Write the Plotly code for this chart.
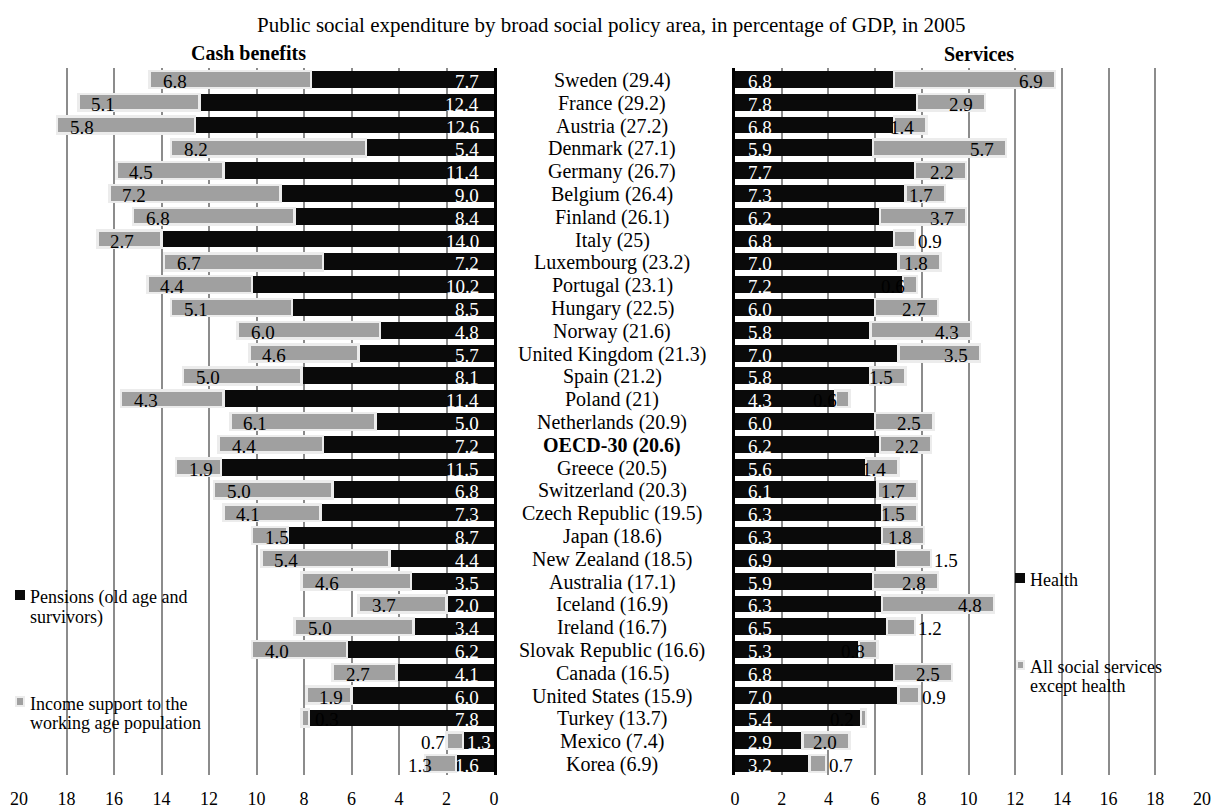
import plotly.graph_objects as go

# ---- data: public social expenditure, % of GDP, 2005 ----
countries = [
    "Sweden", "France", "Austria", "Denmark", "Germany", "Belgium", "Finland",
    "Italy", "Luxembourg", "Portugal", "Hungary", "Norway", "United Kingdom",
    "Spain", "Poland", "Netherlands", "OECD-30", "Greece", "Switzerland",
    "Czech Republic", "Japan", "New Zealand", "Australia", "Iceland", "Ireland",
    "Slovak Republic", "Canada", "United States", "Turkey", "Mexico", "Korea",
]
totals = [
    29.4, 29.2, 27.2, 27.1, 26.7, 26.4, 26.1, 25, 23.2, 23.1, 22.5, 21.6, 21.3,
    21.2, 21, 20.9, 20.6, 20.5, 20.3, 19.5, 18.6, 18.5, 17.1, 16.9, 16.7, 16.6,
    16.5, 15.9, 13.7, 7.4, 6.9,
]
pensions = [
    7.7, 12.4, 12.6, 5.4, 11.4, 9.0, 8.4, 14.0, 7.2, 10.2, 8.5, 4.8, 5.7, 8.1,
    11.4, 5.0, 7.2, 11.5, 6.8, 7.3, 8.7, 4.4, 3.5, 2.0, 3.4, 6.2, 4.1, 6.0, 7.8,
    1.3, 1.6,
]
income_support = [
    6.8, 5.1, 5.8, 8.2, 4.5, 7.2, 6.8, 2.7, 6.7, 4.4, 5.1, 6.0, 4.6, 5.0, 4.3,
    6.1, 4.4, 1.9, 5.0, 4.1, 1.5, 5.4, 4.6, 3.7, 5.0, 4.0, 2.7, 1.9, 0.3, 0.7,
    1.3,
]
health = [
    6.8, 7.8, 6.8, 5.9, 7.7, 7.3, 6.2, 6.8, 7.0, 7.2, 6.0, 5.8, 7.0, 5.8, 4.3,
    6.0, 6.2, 5.6, 6.1, 6.3, 6.3, 6.9, 5.9, 6.3, 6.5, 5.3, 6.8, 7.0, 5.4, 2.9,
    3.2,
]
social_services = [
    6.9, 2.9, 1.4, 5.7, 2.2, 1.7, 3.7, 0.9, 1.8, 0.6, 2.7, 4.3, 3.5, 1.5, 0.6,
    2.5, 2.2, 1.4, 1.7, 1.5, 1.8, 1.5, 2.8, 4.8, 1.2, 0.8, 2.5, 0.9, 0.2, 2.0,
    0.7,
]
axis_ticks = [0, 2, 4, 6, 8, 10, 12, 14, 16, 18, 20]

labels = [f"{c} ({t:g})" for c, t in zip(countries, totals)]

# ---- styling ----
W, H = 1219, 811
FONT = "Liberation Serif, Times New Roman, serif"
BLACK = "#0a0a0a"
GREY = "#a0a0a0"
EDGE = "#ececec"
GRID = "#8c8c8c"
BAR_W = 0.74

# label placement exceptions (short bars whose value sits beyond the bar end)
services_outside = {"Italy", "New Zealand", "Ireland", "United States", "Korea"}
income_outside = {"Mexico": 0, "Korea": 9}
pension_shift = {"Mexico": -1}


def px(x):
    return x / W


def py(y):
    return 1 - y / H


fig = go.Figure()

fig.add_trace(go.Bar(y=labels, x=pensions, orientation="h", width=BAR_W,
                     marker=dict(color=BLACK, line=dict(width=0)),
                     name="Pensions (old age and survivors)",
                     xaxis="x", yaxis="y"))
fig.add_trace(go.Bar(y=labels, x=income_support, orientation="h", width=BAR_W,
                     marker=dict(color=GREY, line=dict(color=EDGE, width=2.5)),
                     name="Income support to the working age population",
                     xaxis="x", yaxis="y"))
fig.add_trace(go.Bar(y=labels, x=health, orientation="h", width=BAR_W,
                     marker=dict(color=BLACK, line=dict(width=0)),
                     name="Health", xaxis="x2", yaxis="y2"))
fig.add_trace(go.Bar(y=labels, x=social_services, orientation="h", width=BAR_W,
                     marker=dict(color=GREY, line=dict(color=EDGE, width=2.5)),
                     name="All social services except health",
                     xaxis="x2", yaxis="y2"))

annotations = []
VAL = dict(family=FONT, size=19)

for i, lab in enumerate(labels):
    name = countries[i]
    bold = name == "OECD-30"
    # country label in the centre column
    annotations.append(dict(
        x=px(612), xref="paper", y=lab, yref="y", xanchor="center",
        text=f"<b>{lab}</b>" if bold else lab, showarrow=False,
        font=dict(family=FONT, size=20, color="#000"), yshift=-1))
    # pensions value, near the zero line
    annotations.append(dict(
        x=0, xref="x", y=lab, yref="y", xanchor="right",
        xshift=pension_shift.get(name, -13),
        text=f"{pensions[i]:.1f}", showarrow=False, yshift=-2,
        font=dict(VAL, color="#ffffff")))
    # income support value, at the outer end
    end = pensions[i] + income_support[i]
    if name in income_outside:
        annotations.append(dict(
            x=end, xref="x", y=lab, yref="y", xanchor="right",
            xshift=income_outside[name], text=f"{income_support[i]:.1f}",
            showarrow=False, yshift=-2, font=dict(VAL, color="#000")))
    else:
        annotations.append(dict(
            x=end, xref="x", y=lab, yref="y", xanchor="left", xshift=11,
            text=f"{income_support[i]:.1f}", showarrow=False, yshift=-2,
            font=dict(VAL, color="#000")))
    # health value, near the zero line
    annotations.append(dict(
        x=0, xref="x2", y=lab, yref="y2", xanchor="left", xshift=11,
        text=f"{health[i]:.1f}", showarrow=False, yshift=-2,
        font=dict(VAL, color="#ffffff")))
    # social services value
    end2 = health[i] + social_services[i]
    if name in services_outside:
        annotations.append(dict(
            x=end2, xref="x2", y=lab, yref="y2", xanchor="left", xshift=1,
            text=f"{social_services[i]:.1f}", showarrow=False, yshift=-2,
            font=dict(VAL, color="#000")))
    else:
        annotations.append(dict(
            x=end2, xref="x2", y=lab, yref="y2", xanchor="right", xshift=-10,
            text=f"{social_services[i]:.1f}", showarrow=False, yshift=-2,
            font=dict(VAL, color="#000")))


def text_at(x, y, s, size=18, anchor="left", bold=False):
    annotations.append(dict(
        x=px(x), y=py(y), xref="paper", yref="paper", xanchor=anchor,
        yanchor="middle", text=f"<b>{s}</b>" if bold else s, showarrow=False,
        font=dict(family=FONT, size=size, color="#000")))


# titles
text_at(611, 25, "Public social expenditure by broad social policy area, "
        "in percentage of GDP, in 2005", size=21, anchor="center")
text_at(248, 53, "Cash benefits", size=20, anchor="center", bold=True)
text_at(979, 54, "Services", size=20, anchor="center", bold=True)

# hand-placed legends
text_at(28, 597, "Pensions (old age and")
text_at(28, 617, "survivors)")
text_at(28, 704, "Income support to the")
text_at(28, 723, "working age population")
text_at(1028, 580, "Health")
text_at(1028, 667, "All social services")
text_at(1028, 686, "except health")

shapes = [
    dict(type="rect", xref="paper", yref="paper", x0=px(15), x1=px(25),
         y0=py(600), y1=py(590), fillcolor=BLACK, line=dict(width=0)),
    dict(type="rect", xref="paper", yref="paper", x0=px(16), x1=px(24),
         y0=py(706), y1=py(697), fillcolor=GREY, line=dict(color=EDGE, width=2)),
    dict(type="rect", xref="paper", yref="paper", x0=px(1015), x1=px(1025),
         y0=py(583), y1=py(573), fillcolor=BLACK, line=dict(width=0)),
    dict(type="rect", xref="paper", yref="paper", x0=px(1017), x1=px(1024),
         y0=py(669), y1=py(661), fillcolor=GREY, line=dict(color=EDGE, width=2)),
]

xcommon = dict(
    tickvals=axis_ticks, showgrid=True, gridcolor=GRID, gridwidth=2,
    zeroline=False, showline=False, ticks="outside", ticklen=7,
    tickcolor="rgba(0,0,0,0)", tickfont=dict(family=FONT, size=18, color="#000"),
    automargin=False, fixedrange=True,
)
ycommon = dict(
    type="category", categoryarray=labels, range=[30.5, -0.5],
    domain=[py(775), py(68)], showticklabels=False, showgrid=False,
    zeroline=False, ticks="", showline=True, linecolor="#000", linewidth=2.5,
    automargin=False, fixedrange=True,
)

fig.update_layout(
    width=W, height=H, template="none", barmode="stack", showlegend=False,
    paper_bgcolor="white", plot_bgcolor="rgba(0,0,0,0)",
    margin=dict(l=0, r=0, t=0, b=0),
    font=dict(family=FONT, color="#000"),
    xaxis=dict(xcommon, domain=[px(19), px(494)], range=[20, 0], anchor="y"),
    yaxis=dict(ycommon, anchor="x", side="right"),
    xaxis2=dict(xcommon, domain=[px(735), px(1202)], range=[0, 20], anchor="y2"),
    yaxis2=dict(ycommon, anchor="x2", side="left"),
    annotations=annotations, shapes=shapes,
)

fig.write_html("out.html")
